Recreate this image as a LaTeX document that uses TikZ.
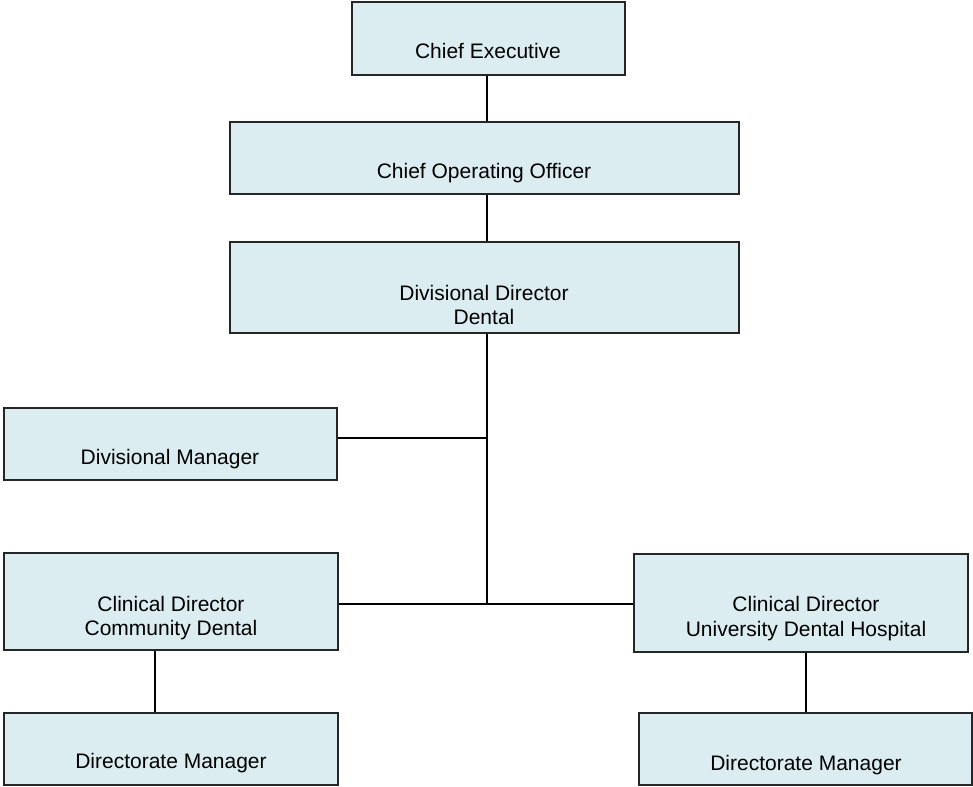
\documentclass[tikz,border=0pt]{standalone}
\usepackage{fontspec}
\setmainfont{Liberation Sans}
\definecolor{boxfill}{HTML}{DBEDF0}
\tikzset{
  orgbox/.style={draw=black!85, line width=1.6pt, fill=boxfill, inner sep=0pt},
  lbl/.style={anchor=base, inner sep=0pt, font=\fontsize{21}{24}\selectfont},
  conn/.style={draw=black, line width=1.6pt}
}
\newcommand{\orgrect}[5]{\node[orgbox, minimum width={#4-#2}, minimum height={#5-#3}] (#1) at ({(#2+#4)/2},{(#3+#5)/2}) {};}
\begin{document}
\begin{tikzpicture}[x=1pt,y=-1pt]
\useasboundingbox (0,0) rectangle (973,786);
% boxes
\orgrect{ce}{352}{2}{625}{75}
\orgrect{coo}{230}{122}{739}{194}
\orgrect{dd}{230}{242}{739}{333}
\orgrect{dm}{4}{408}{337}{480}
\orgrect{cdc}{4}{553}{338}{650}
\orgrect{cdu}{634}{554}{968}{652}
\orgrect{dml}{4}{713}{338}{785}
\orgrect{dmr}{639}{713}{972}{785}
% labels
\node[lbl] (tce) at (488,59) {Chief Executive};
\node[lbl] (tcoo) at (484,179) {Chief Operating Officer};
\node[lbl] (tdd1) at (484,300) {Divisional Director};
\node[lbl] (tdd2) at (484,324) {Dental};
\node[lbl] (tdm) at (170,464) {Divisional Manager};
\node[lbl] (tcdc1) at (171,611) {Clinical Director};
\node[lbl] (tcdc2) at (171,635) {Community Dental};
\node[lbl] (tcdu1) at (806,611) {Clinical Director};
\node[lbl] (tcdu2) at (806,636) {University Dental Hospital};
\node[lbl] (tdml) at (171,768) {Directorate Manager};
\node[lbl] (tdmr) at (806,770) {Directorate Manager};
% connector coordinates
\coordinate (trunk) at (487,0);
\coordinate (jdm) at (487,438);
\coordinate (jmid) at (487,604);
\coordinate (lcol) at (155,0);
\coordinate (rcol) at (806,0);
% connectors
\draw[conn] (ce.south -| trunk) -- (coo.north -| trunk);
\draw[conn] (coo.south -| trunk) -- (dd.north -| trunk);
\draw[conn] (dd.south -| trunk) -- (jmid);
\draw[conn] (dm.east |- jdm) -- (jdm);
\draw[conn] (cdc.east |- jmid) -- (cdu.west |- jmid);
\draw[conn] (cdc.south -| lcol) -- (dml.north -| lcol);
\draw[conn] (cdu.south -| rcol) -- (dmr.north -| rcol);
\end{tikzpicture}
\end{document}
